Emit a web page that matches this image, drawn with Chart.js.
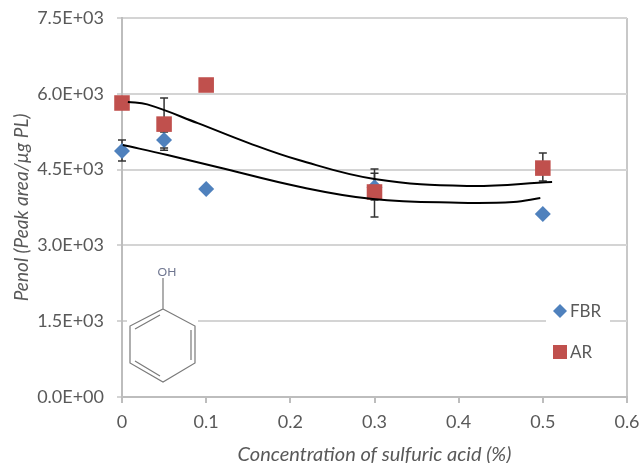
<!DOCTYPE html>
<html>
<head>
<meta charset="utf-8">
<script src="https://cdn.jsdelivr.net/npm/chart.js@4/dist/chart.umd.js"></script>
<style>
    html, body { margin: 0; padding: 0; background: #fff; }
    canvas { display: block; filter: blur(0.6px); }
</style>
</head>
<body>
<canvas id="chart" width="644" height="463"></canvas>
<script>
const concentrations = [0, 0.05, 0.1, 0.3, 0.5];
const fbrValues = [4868, 5086, 4116, 4150, 3620];
const arValues = [5818, 5400, 6174, 4057, 4530];

// error bar ends, null where the picture shows none
const fbrLow = [4670, 4926, null, 3900, null];
const fbrHigh = [5086, 5246, null, 4430, null];
const arLow = [5700, 4883, null, 3562, 4274];
const arHigh = [5917, 5917, null, 4512, 4828];

// trend lines
const arTrendX = [0.007, 0.03, 0.09, 0.15, 0.21, 0.3, 0.41, 0.511];
const arTrendY = [5838, 5790, 5420, 5030, 4690, 4314, 4176, 4255];
const fbrTrendX = [0.001, 0.054, 0.113, 0.212, 0.298, 0.4, 0.465, 0.497];
const fbrTrendY = [4987, 4789, 4552, 4156, 3918, 3845, 3859, 3938];

const xTicks = [0, 0.1, 0.2, 0.3, 0.4, 0.5, 0.6];
const yTicks = [0, 1500, 3000, 4500, 6000, 7500];

const blue = '#4F81BD';
const red = '#C0504D';
const textColor = '#595959';
const lineGray = '#bdbdbd';

function toPoints(xs, ys) {
    return xs.map((x, i) => ({x: x, y: ys[i]}));
}

const errorBars = {
    id: 'errorBars',
    beforeDatasetsDraw(chart) {
        const {ctx, scales: {x, y}} = chart;
        const sets = [[fbrLow, fbrHigh], [arLow, arHigh]];
        ctx.save();
        ctx.strokeStyle = '#333';
        ctx.lineWidth = 1.5;
        sets.forEach(([low, high]) => {
            concentrations.forEach((c, i) => {
                if (low[i] === null) return;
                const px = x.getPixelForValue(c);
                const top = y.getPixelForValue(high[i]);
                const bottom = y.getPixelForValue(low[i]);
                ctx.beginPath();
                ctx.moveTo(px, top);
                ctx.lineTo(px, bottom);
                ctx.moveTo(px - 4, top);
                ctx.lineTo(px + 4, top);
                ctx.moveTo(px - 4, bottom);
                ctx.lineTo(px + 4, bottom);
                ctx.stroke();
            });
        });
        ctx.restore();
    }
};

// phenol structure and legend sit on white panels over the gridlines
const overlays = {
    id: 'overlays',
    beforeDatasetsDraw(chart) {
        const ctx = chart.ctx;
        ctx.save();
        ctx.fillStyle = '#fff';
        ctx.fillRect(127, 266, 71, 119);
        ctx.fillRect(546, 296, 64, 77);

        ctx.strokeStyle = '#7a7a7a';
        ctx.lineWidth = 1.2;
        const ring = [[163, 309], [195, 326], [195, 363], [163, 382], [130, 363], [130, 326]];
        ctx.beginPath();
        ring.forEach((p, i) => i ? ctx.lineTo(p[0], p[1]) : ctx.moveTo(p[0], p[1]));
        ctx.closePath();
        ctx.moveTo(163, 309); ctx.lineTo(163, 278);
        ctx.moveTo(135, 329); ctx.lineTo(160, 315);
        ctx.moveTo(191, 330); ctx.lineTo(191, 360);
        ctx.moveTo(135, 361); ctx.lineTo(160, 376);
        ctx.stroke();

        ctx.fillStyle = '#6f7690';
        ctx.font = '12px Lato';
        ctx.textAlign = 'center';
        ctx.textBaseline = 'middle';
        ctx.fillText('OH', 167, 272);

        // legend
        ctx.fillStyle = blue;
        ctx.beginPath();
        ctx.moveTo(560, 304); ctx.lineTo(567, 311); ctx.lineTo(560, 318); ctx.lineTo(553, 311);
        ctx.closePath();
        ctx.fill();
        ctx.fillStyle = red;
        ctx.fillRect(553, 345, 14, 14);
        ctx.fillStyle = textColor;
        ctx.font = '17px Lato';
        ctx.textAlign = 'left';
        ctx.fillText('FBR', 570, 312);
        ctx.fillText('AR', 570, 353);
        ctx.restore();
    }
};

new Chart(document.getElementById('chart'), {
    type: 'scatter',
    data: {
        datasets: [
            {
                label: 'AR trend',
                data: toPoints(arTrendX, arTrendY),
                showLine: true,
                borderColor: '#000',
                borderWidth: 2,
                tension: 0.4,
                pointRadius: 0,
                order: 0
            },
            {
                label: 'FBR trend',
                data: toPoints(fbrTrendX, fbrTrendY),
                showLine: true,
                borderColor: '#000',
                borderWidth: 2,
                tension: 0.4,
                pointRadius: 0,
                order: 0
            },
            {
                label: 'AR',
                data: toPoints(concentrations, arValues),
                backgroundColor: red,
                borderColor: red,
                pointStyle: 'rect',
                pointRadius: 11,
                borderWidth: 0,
                clip: false,
                order: 1
            },
            {
                label: 'FBR',
                data: toPoints(concentrations, fbrValues),
                backgroundColor: blue,
                borderColor: blue,
                pointStyle: 'rectRot',
                pointRadius: 8,
                borderWidth: 0,
                clip: false,
                order: 2
            }
        ]
    },
    options: {
        responsive: false,
        animation: false,
        layout: {padding: {top: 18, right: 17, left: 0, bottom: 0}},
        plugins: {
            legend: {display: false},
            tooltip: {enabled: false}
        },
        scales: {
            x: {
                type: 'linear',
                min: 0,
                max: 0.6,
                afterBuildTicks(scale) {
                    scale.ticks = xTicks.map(v => ({value: v}));
                },
                afterFit(scale) {
                    scale.height = 66;
                    scale.paddingLeft = 0;
                    scale.paddingRight = 0;
                },
                grid: {
                    // only the right edge is drawn up through the plot
                    color: ctx => ctx.tick && ctx.tick.value === 0.6 ? '#c8c8c8' : 'transparent',
                    tickColor: lineGray,
                    lineWidth: 2,
                    tickLength: 6
                },
                border: {color: lineGray, width: 2},
                ticks: {
                    color: textColor,
                    font: {family: 'Lato', size: 18},
                    maxRotation: 0,
                    padding: 8,
                    callback: v => String(v)
                },
                title: {
                    display: true,
                    text: 'Concentration of sulfuric acid (%)',
                    color: textColor,
                    font: {family: 'Lato', size: 20, style: 'italic'},
                    padding: {top: 0, bottom: -4}
                }
            },
            y: {
                min: 0,
                max: 7500,
                afterBuildTicks(scale) {
                    scale.ticks = yTicks.map(v => ({value: v}));
                },
                afterFit(scale) {
                    scale.width = 122;
                    scale.paddingTop = 0;
                    scale.paddingBottom = 0;
                },
                grid: {color: '#d4d4d4', lineWidth: 2, tickLength: 5},
                border: {color: lineGray, width: 2},
                ticks: {
                    color: textColor,
                    font: {family: 'Lato', size: 18},
                    padding: 13,
                    callback: v => v.toExponential(1).replace(/e\+(\d)$/, 'E+0$1')
                },
                title: {
                    display: true,
                    text: 'Penol (Peak area/µg PL)',
                    color: textColor,
                    font: {family: 'Lato', size: 19, style: 'italic'},
                    padding: {top: 10, bottom: 0}
                }
            }
        }
    },
    plugins: [overlays, errorBars]
});
</script>
</body>
</html>
